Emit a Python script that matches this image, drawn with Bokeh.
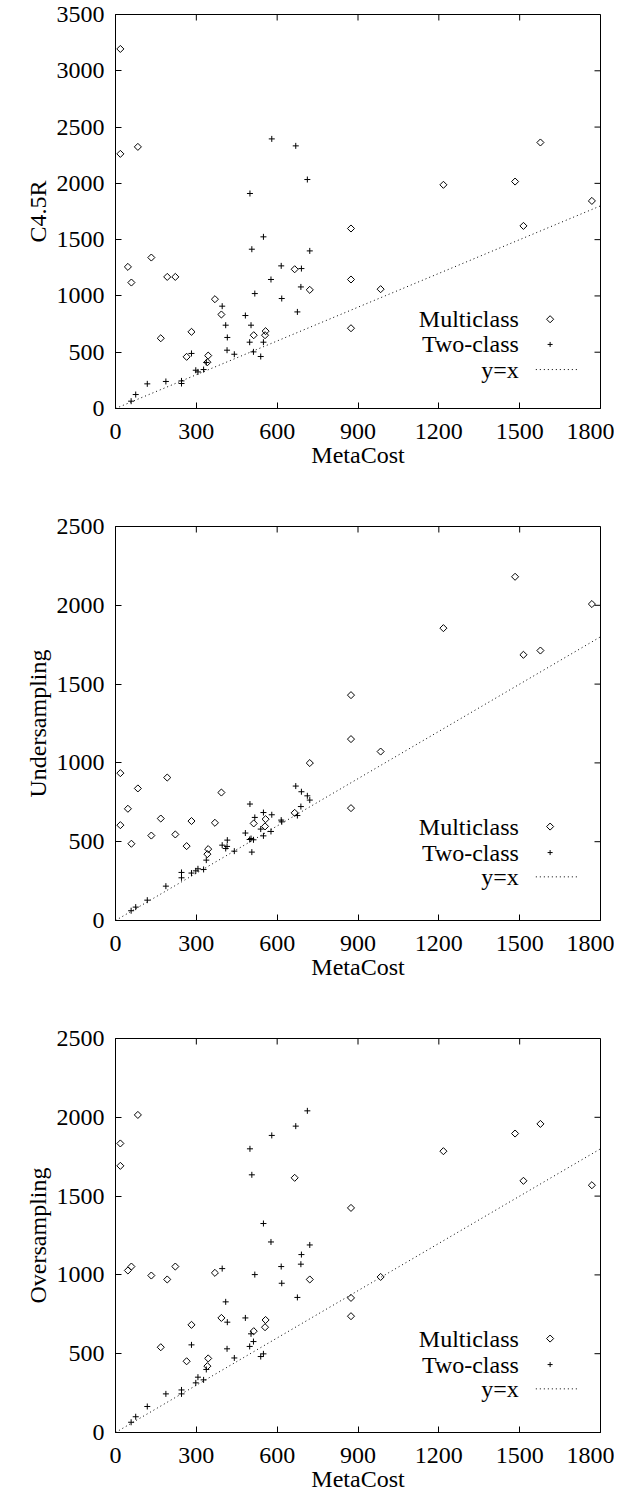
from bokeh.plotting import figure
from bokeh.layouts import column
from bokeh.models import FixedTicker, Label, Range1d
from bokeh.embed import file_html
from bokeh.resources import INLINE

# ---------------- data ----------------
metacost_multi = [18, 18, 83, 46, 59, 133, 192, 222, 168, 282, 264, 344, 341, 369, 393,
                  513, 557, 555, 665, 721, 874, 874, 874, 984, 1217, 1483, 1514, 1577, 1768]
c45r_multi = [3194, 2262, 2324, 1258, 1119, 1341, 1169, 1169, 624, 681, 459, 470, 411, 971, 835,
              651, 687, 651, 1237, 1054, 1599, 1146, 713, 1060, 1987, 2016, 1622, 2363, 1844]
under_multi = [935, 605, 838, 709, 487, 539, 907, 546, 647, 631, 472, 453, 421, 620, 812,
               616, 643, 597, 683, 999, 1430, 1151, 713, 1072, 1855, 2181, 1686, 1713, 2008]
over_multi = [1834, 1692, 2015, 1028, 1053, 996, 971, 1053, 541, 683, 452, 470, 421, 1013, 727,
              643, 714, 668, 1616, 971, 1425, 854, 738, 987, 1785, 1897, 1597, 1958, 1569]

metacost_two = [58, 75, 118, 187, 245, 245, 282, 298, 306, 327, 337, 396, 409, 414, 415, 441, 482, 498,
                499, 503, 506, 512, 517, 539, 549, 549, 577, 580, 615, 617, 669, 675, 688, 690, 712, 721]
c45r_two = [65, 124, 219, 240, 245, 222, 489, 340, 325, 346, 409, 909, 740, 518, 631, 482, 826, 589,
            1910, 740, 1415, 503, 1021, 462, 1525, 589, 1146, 2395, 1267, 977, 2333, 858, 1080, 1243, 2034, 1400]
under_two = [62, 85, 129, 218, 305, 271, 301, 315, 328, 324, 383, 478, 457, 470, 510, 440, 555, 514,
             739, 520, 434, 512, 654, 580, 685, 537, 565, 671, 637, 626, 853, 666, 723, 817, 791, 764]
over_two = [65, 100, 165, 245, 270, 245, 556, 315, 351, 334, 400, 1040, 829, 531, 700, 473, 727, 546,
            1800, 626, 1635, 577, 1002, 482, 1326, 499, 1209, 1885, 1053, 947, 1944, 857, 1068, 1129, 2041, 1190]

diag = [0, 1800]
x_ticks = [0, 300, 600, 900, 1200, 1500, 1800]
x_label = "MetaCost"
legend_labels = ["Multiclass", "Two-class", "y=x"]

FONT = "Liberation Serif"
FS = "24px"
XMAX = 1800
FRAME_W = 485
FRAME_H = 394
TICK = 6


def make_panel(ylabel, ymax, ystep, ym, yt, leg_rows, bottom):
    p = figure(frame_width=FRAME_W, frame_height=FRAME_H,
               x_range=Range1d(0, XMAX), y_range=Range1d(0, ymax),
               output_backend="svg", toolbar_location=None,
               min_border_left=115, min_border_right=14,
               min_border_top=14, min_border_bottom=bottom,
               background_fill_color="white", border_fill_color="white")
    p.grid.visible = False
    p.outline_line_color = "black"
    p.outline_line_width = 1
    p.outline_line_alpha = 1

    y_ticks = list(range(0, ymax + 1, ystep))
    for ax, ticks in ((p.xaxis[0], x_ticks), (p.yaxis[0], y_ticks)):
        ax.ticker = FixedTicker(ticks=ticks)
        ax.major_tick_in = TICK
        ax.major_tick_out = 0
        ax.minor_tick_line_color = None
        ax.major_label_text_font = FONT
        ax.major_label_text_font_size = FS
        ax.major_label_text_color = "black"
        ax.axis_label_text_font = FONT
        ax.axis_label_text_font_size = FS
        ax.axis_label_text_font_style = "normal"
        ax.axis_label_text_color = "black"
        ax.axis_line_color = "black"
        ax.major_tick_line_color = "black"
    p.xaxis[0].axis_label = x_label
    p.xaxis[0].major_label_standoff = 15
    p.xaxis[0].axis_label_standoff = 0
    p.yaxis[0].axis_label = ylabel
    p.yaxis[0].major_label_standoff = 11
    p.yaxis[0].axis_label_standoff = 3

    # mirrored ticks on top and right edges of the box
    dy = TICK * ymax / FRAME_H
    dx = TICK * XMAX / FRAME_W
    p.segment(x0=x_ticks, y0=[ymax] * len(x_ticks), x1=x_ticks, y1=[ymax - dy] * len(x_ticks),
              line_color="black", line_width=1)
    p.segment(x0=[XMAX] * len(y_ticks), y0=y_ticks, x1=[XMAX - dx] * len(y_ticks), y1=y_ticks,
              line_color="black", line_width=1)

    p.line(diag, diag, line_color="black", line_dash="1 3", line_width=1)
    p.scatter(metacost_multi, ym, marker="square", angle=0.785398, size=5,
              fill_color=None, line_color="black", line_width=1)
    p.scatter(metacost_two, yt, marker="cross", size=6,
              line_color="black", line_width=1)

    # key (text right-aligned, sample to its right)
    text_x, samp_x, line_x0, line_x1 = 1497, 1613, 1560, 1720
    for lab, yy in zip(legend_labels, leg_rows):
        p.add_layout(Label(x=text_x, y=yy, text=lab, text_align="right",
                           text_baseline="middle", text_font=FONT,
                           text_font_size=FS, text_color="black"))
    p.scatter([samp_x], [leg_rows[0]], marker="square", angle=0.785398, size=5,
              fill_color=None, line_color="black", line_width=1)
    p.scatter([samp_x], [leg_rows[1]], marker="cross", size=5,
              line_color="black", line_width=1)
    p.line([line_x0, line_x1], [leg_rows[2], leg_rows[2]], line_color="black",
           line_dash="1 3", line_width=1)
    return p


p1 = make_panel("C4.5R", 3500, 500, c45r_multi, c45r_two, [793, 569, 346], 104)
p2 = make_panel("Undersampling", 2500, 500, under_multi, under_two, [596, 431, 277], 104)
p3 = make_panel("Oversampling", 2500, 500, over_multi, over_two, [596, 431, 277], 62)

layout = column(p1, p2, p3, spacing=0)
open("out.html", "w").write(file_html(layout, INLINE))
